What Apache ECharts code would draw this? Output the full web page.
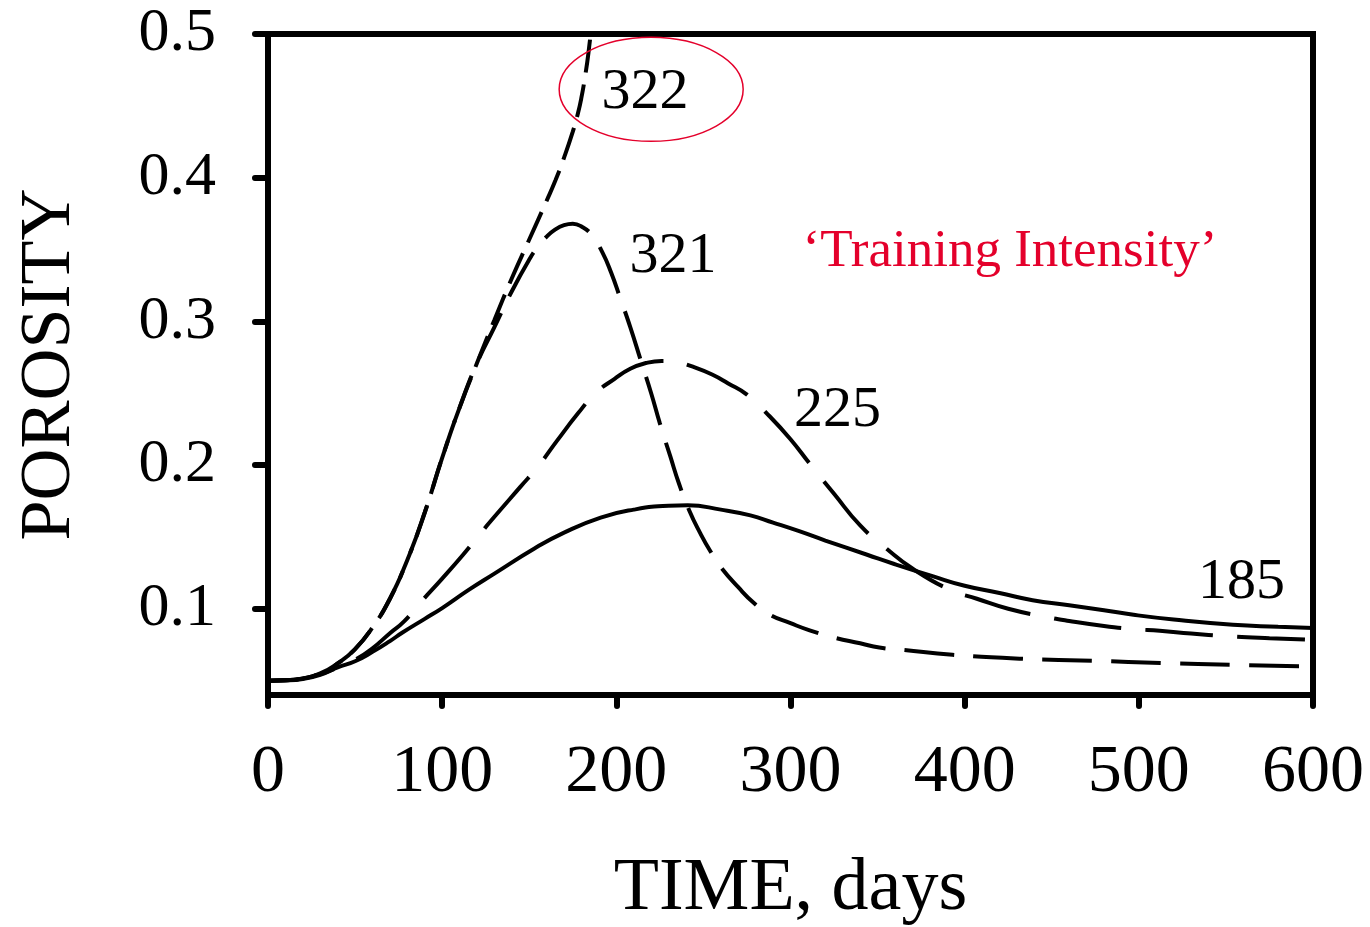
<!DOCTYPE html>
<html>
<head>
<meta charset="utf-8">
<script src="https://cdn.jsdelivr.net/npm/echarts@6/dist/echarts.min.js"></script>
<style>
    html, body { margin: 0; padding: 0; background: #fff; }
    #porosity { width: 1370px; height: 927px; }
</style>
</head>
<body>
<div id="porosity"></div>
<script>
    // time (days) / porosity per curve
    var t185 = [0, 10, 20, 30, 40, 50, 60, 70, 77, 90, 100, 115, 130, 153, 170, 191, 210, 230, 241, 260, 277, 290, 305, 320, 344, 360, 382, 400, 420, 439, 460, 480, 497, 520, 554, 580, 600];
    var p185 = [0.050, 0.0502, 0.0512, 0.054, 0.0592, 0.0635, 0.070, 0.0775, 0.0833, 0.093, 0.1005, 0.113, 0.1245, 0.142, 0.153, 0.1635, 0.169, 0.1717, 0.172, 0.169, 0.165, 0.160, 0.154, 0.1475, 0.1376, 0.131, 0.1225, 0.116, 0.111, 0.106, 0.1025, 0.099, 0.0958, 0.0925, 0.0889, 0.0875, 0.0866];

    var t225 = [0, 10, 20, 30, 40, 50, 60, 70, 78, 88, 100, 112, 121, 130, 145, 155, 166, 178, 188, 199, 208, 217, 226, 235, 245, 255, 264, 275, 288, 300, 311, 325, 340, 355, 370, 392, 407, 425, 445, 460, 480, 497, 512, 530, 550, 575, 600];
    var p225 = [0.050, 0.0502, 0.0515, 0.0545, 0.059, 0.0645, 0.0725, 0.083, 0.091, 0.105, 0.121, 0.1376, 0.151, 0.164, 0.185, 0.199, 0.217, 0.236, 0.250, 0.260, 0.267, 0.271, 0.2725, 0.2715, 0.268, 0.263, 0.257, 0.249, 0.234, 0.218, 0.201, 0.180, 0.158, 0.142, 0.128, 0.113, 0.107, 0.100, 0.0947, 0.0915, 0.088, 0.0859, 0.0847, 0.0828, 0.081, 0.0795, 0.0784];

    var t321 = [0, 10, 20, 30, 40, 50, 60, 70, 80, 90, 100, 110, 120, 130, 140, 150, 155, 160, 165, 170, 175, 180, 186, 192, 197, 202, 208, 214, 220, 225, 231, 236, 242, 248, 254, 260, 270, 279, 288, 300, 311, 325, 340, 351, 365, 393, 434, 474, 514, 554, 600];
    var p321 = [0.050, 0.0503, 0.0515, 0.055, 0.062, 0.072, 0.087, 0.107, 0.134, 0.167, 0.205, 0.240, 0.271, 0.296, 0.321, 0.343, 0.352, 0.359, 0.364, 0.367, 0.368, 0.366, 0.360, 0.348, 0.334, 0.317, 0.296, 0.273, 0.250, 0.229, 0.206, 0.187, 0.168, 0.153, 0.140, 0.129, 0.115, 0.104, 0.096, 0.090, 0.085, 0.080, 0.076, 0.073, 0.0713, 0.068, 0.0652, 0.0638, 0.0622, 0.061, 0.0598];

    var t322 = [0, 10, 20, 30, 40, 50, 60, 70, 80, 90, 100, 110, 120, 130, 140, 150, 160, 165, 170, 175, 178, 180, 182, 184, 186, 188];
    var p322 = [0.050, 0.0503, 0.0515, 0.055, 0.062, 0.072, 0.087, 0.107, 0.134, 0.167, 0.205, 0.240, 0.271, 0.301, 0.330, 0.357, 0.384, 0.398, 0.414, 0.432, 0.445, 0.456, 0.470, 0.487, 0.510, 0.540];

    var xTicks = [0, 100, 200, 300, 400, 500, 600];
    var yTicks = [0.1, 0.2, 0.3, 0.4, 0.5];

    var serif = 'Liberation Serif, Times New Roman, serif';

    function pairs(t, p) {
        var out = [];
        for (var i = 0; i < t.length; i++) {
            out.push([t[i], p[i]]);
        }
        return out;
    }

    function curve(name, t, p, dash) {
        return {
            name: name,
            type: 'line',
            data: pairs(t, p),
            showSymbol: false,
            smooth: 0.5,
            clip: true,
            lineStyle: {color: '#000', width: 4, type: dash}
        };
    }

    var dom = document.getElementById('porosity');
    var myChart = echarts.init(dom, null, {renderer: 'canvas'});
    var option = {
        animation: false,
        backgroundColor: '#fff',
        grid: {
            left: 268, right: 57, top: 34, bottom: 232,
            containLabel: false,
            outerBoundsMode: 'none',
            show: true,
            borderColor: '#000',
            borderWidth: 6
        },
        xAxis: {
            type: 'value',
            min: 0,
            max: 600,
            interval: 100,
            name: 'TIME, days',
            nameLocation: 'middle',
            nameGap: 158,
            nameTextStyle: {fontFamily: serif, fontSize: 74, color: '#000'},
            axisLine: {lineStyle: {color: '#000', width: 6}},
            axisTick: {length: 11, lineStyle: {color: '#000', width: 6, cap: 'round'}},
            axisLabel: {
                margin: 44,
                fontFamily: serif,
                fontSize: 68,
                color: '#000',
                customValues: xTicks
            },
            splitLine: {show: false}
        },
        yAxis: {
            type: 'value',
            min: 0.04,
            max: 0.5,
            name: 'POROSITY',
            nameLocation: 'middle',
            nameGap: 182,
            nameTextStyle: {fontFamily: serif, fontSize: 72, color: '#000'},
            axisLine: {lineStyle: {color: '#000', width: 6}},
            axisTick: {length: 13, customValues: yTicks, lineStyle: {color: '#000', width: 6, cap: 'round'}},
            axisLabel: {
                margin: 52,
                fontFamily: serif,
                fontSize: 62,
                color: '#000',
                customValues: yTicks,
                formatter: function (v) { return v.toFixed(1); }
            },
            splitLine: {show: false}
        },
        series: [
            curve('322', t322, p322, [33, 12]),
            curve('321', t321, p321, [50, 19]),
            curve('225', t225, p225, [68, 24]),
            curve('185', t185, p185, 'solid')
        ]
    };
    myChart.setOption(option, true);

    // annotations placed in data coordinates
    function at(t, v) {
        return myChart.convertToPixel({gridIndex: 0}, [t, v]);
    }
    function note(text, t, v, size, color) {
        var p = at(t, v);
        return {
            type: 'text',
            x: p[0], y: p[1],
            style: {
                text: text,
                font: size + 'px ' + serif,
                fill: color,
                align: 'center',
                verticalAlign: 'middle'
            },
            z: 100
        };
    }
    var c322 = at(220, 0.4615);
    myChart.setOption({
        graphic: [
            {
                type: 'ellipse',
                shape: {cx: c322[0], cy: c322[1], rx: 92, ry: 52},
                style: {fill: 'none', stroke: '#e4002b', lineWidth: 1.5},
                z: 100
            },
            note('322', 216.5, 0.459, 58, '#000'),
            note('321', 232.5, 0.345, 58, '#000'),
            note('225', 327, 0.238, 58, '#000'),
            note('185', 559, 0.118, 58, '#000'),
            note('\u2018Training Intensity\u2019', 426, 0.348, 53, '#e4002b')
        ]
    });
</script>
</body>
</html>
